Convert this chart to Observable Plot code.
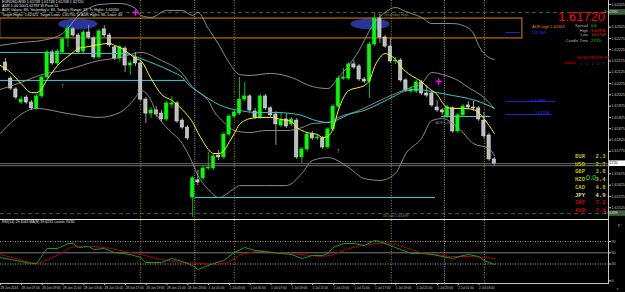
<!DOCTYPE html>
<html>
<head>
<meta charset="utf-8">
<script src="https://cdn.jsdelivr.net/npm/d3@7"></script>
<script src="https://cdn.jsdelivr.net/npm/@observablehq/plot@0.6"></script>
<style>
html,body{margin:0;padding:0;background:#000;}
#wrap{position:relative;width:625px;height:292px;overflow:hidden;background:#000;}
#main{position:absolute;left:0;top:0;}
#sub{position:absolute;left:0;top:220px;}
.ln{position:absolute;background:#d0d0d0;}
.t{position:absolute;white-space:nowrap;font-family:"Liberation Sans",Arial,sans-serif;line-height:1;}
.cur{position:absolute;white-space:nowrap;font-family:"DejaVu Sans Mono",monospace;font-weight:bold;font-size:5.6px;line-height:1;}
</style>
</head>
<body>
<div id="wrap">
  <div id="main"></div>
  <div id="sub"></div>
  <div class="ln" style="left:0;top:219px;width:608px;height:1px;background:#e8e8e8"></div>
  <div class="ln" style="left:608px;top:0;width:1px;height:284px;background:#c8c8c8"></div>
  <div class="ln" style="left:0;top:283px;width:609px;height:1px;background:#c8c8c8"></div>
</div>
<script>
// ---------- candles (EURUSD M30) ----------
const candleOpen = [1.62168,1.62097,1.62049,1.61991,1.62013,1.61991,1.61965,1.62018,1.62102,1.62213,
1.62164,1.62213,1.62275,1.62315,1.62288,1.62217,1.62301,1.62275,1.62191,1.62315,
1.62288,1.62235,1.62186,1.62230,1.62155,1.62191,1.62164,1.62004,1.61942,1.61956,
1.61942,1.61916,1.61982,1.61987,1.61911,1.61880,1.61570,1.61646,1.61655,1.61699,
1.61699,1.61756,1.61748,1.61849,1.61929,1.61942,1.62004,1.62018,1.61951,1.61925,
1.62018,1.61965,1.61938,1.61889,1.61916,1.61894,1.61911,1.61748,1.61783,1.61849,
1.61832,1.61832,1.61792,1.61872,1.61973,1.62097,1.62097,1.62160,1.62151,1.62093,
1.62084,1.62248,1.62363,1.62279,1.62239,1.62173,1.62177,1.62089,1.62040,1.62040,
1.62080,1.62031,1.62031,1.61969,1.61956,1.61929,1.61965,1.61863,1.61934,1.61978,
1.61969,1.61965,1.61911,1.61845,1.61739];
const candleHigh = [1.62186,1.62106,1.62058,1.62018,1.62022,1.62000,1.62027,1.62111,1.62222,1.62222,
1.62226,1.62279,1.62332,1.62323,1.62297,1.62310,1.62332,1.62284,1.62315,1.62332,
1.62297,1.62244,1.62244,1.62239,1.62177,1.62213,1.62177,1.62013,1.61969,1.61973,
1.61956,1.61996,1.62018,1.61996,1.61920,1.61889,1.61663,1.61690,1.61712,1.61770,
1.61761,1.61779,1.61858,1.61938,1.61956,1.62102,1.62080,1.62027,1.61965,1.62027,
1.62027,1.61973,1.61951,1.61947,1.61942,1.61925,1.61920,1.61792,1.61858,1.61863,
1.61849,1.61841,1.61880,1.61982,1.62106,1.62142,1.62168,1.62177,1.62160,1.62102,
1.62257,1.62385,1.62381,1.62288,1.62275,1.62191,1.62186,1.62097,1.62062,1.62089,
1.62089,1.62066,1.62040,1.62000,1.61965,1.61978,1.61973,1.61942,1.61982,1.61996,
1.61996,1.61973,1.61947,1.61854,1.61748];
const candleLow = [1.62124,1.62044,1.62004,1.61982,1.61982,1.61956,1.61956,1.62009,1.62097,1.62155,
1.62155,1.62204,1.62235,1.62279,1.62204,1.62208,1.62270,1.62182,1.62182,1.62279,
1.62235,1.62177,1.62168,1.62124,1.62111,1.62151,1.61996,1.61898,1.61920,1.61925,
1.61903,1.61907,1.61965,1.61898,1.61872,1.61823,1.61482,1.61623,1.61641,1.61690,
1.61690,1.61734,1.61739,1.61841,1.61920,1.61934,1.61996,1.61947,1.61916,1.61916,
1.61956,1.61925,1.61801,1.61880,1.61876,1.61885,1.61739,1.61721,1.61774,1.61823,
1.61823,1.61783,1.61783,1.61863,1.61965,1.62089,1.62089,1.62137,1.62084,1.62075,
1.62009,1.62239,1.62253,1.62230,1.62164,1.62160,1.62080,1.62035,1.62031,1.62031,
1.62022,1.62013,1.61969,1.61947,1.61934,1.61920,1.61854,1.61854,1.61925,1.61960,
1.61951,1.61907,1.61832,1.61730,1.61708];
const candleClose = [1.62133,1.62053,1.62013,1.62004,1.61991,1.61965,1.62018,1.62102,1.62213,1.62164,
1.62217,1.62270,1.62319,1.62288,1.62213,1.62301,1.62279,1.62191,1.62306,1.62288,
1.62244,1.62186,1.62235,1.62155,1.62164,1.62164,1.62004,1.61942,1.61956,1.61938,
1.61916,1.61987,1.61987,1.61907,1.61880,1.61832,1.61655,1.61637,1.61699,1.61703,
1.61752,1.61748,1.61849,1.61929,1.61947,1.62004,1.62018,1.61956,1.61925,1.62018,
1.61965,1.61934,1.61894,1.61911,1.61885,1.61916,1.61748,1.61783,1.61849,1.61832,
1.61836,1.61792,1.61872,1.61973,1.62097,1.62102,1.62160,1.62146,1.62093,1.62084,
1.62248,1.62363,1.62279,1.62239,1.62173,1.62177,1.62089,1.62044,1.62049,1.62080,
1.62031,1.62022,1.61978,1.61956,1.61947,1.61969,1.61863,1.61934,1.61973,1.61969,
1.61965,1.61916,1.61841,1.61739,1.61720];

// ---------- indicators (x = candle index) ----------
const yellowIdx = [-1,1,3,5,6,7,8,9,10,11,12,13,14,16,18,20,21,22,24,25,26,28,30,32,34,35,36,37,38,39,40,41,42,43,44,45,46,47,49,51,53,55,56,57,58,60,61,62,63,64,65,66,68,69,70,71,72,73,74,75,76,77,78,79,80,81,82,83,84,85,86,88,90,91,92,93,94];
const yellowVal = [1.62155,1.62124,1.62075,1.62035,1.62035,1.62053,1.62093,1.62124,1.62155,1.62177,1.62195,1.62213,1.62230,1.62239,1.62248,1.62253,1.62244,1.62235,1.62204,1.62186,1.62177,1.62097,1.62027,1.62000,1.61960,1.61934,1.61903,1.61858,1.61818,1.61783,1.61765,1.61765,1.61778,1.61814,1.61854,1.61894,1.61911,1.61920,1.61925,1.61925,1.61916,1.61907,1.61880,1.61867,1.61858,1.61849,1.61836,1.61841,1.61876,1.61956,1.62013,1.62044,1.62058,1.62066,1.62089,1.62151,1.62190,1.62208,1.62199,1.62182,1.62151,1.62128,1.62111,1.62097,1.62084,1.62062,1.62044,1.62027,1.61991,1.61969,1.61965,1.61965,1.61960,1.61947,1.61920,1.61889,1.61854];
const cyanIdx = [-1,6,12,18,23,26,29,32,34,35,37,39,41,43,45,48,52,55,57,59,62,64,66,69,72,75,77,79,81,83,86,89,92,94];
const cyanVal = [1.62213,1.62213,1.62208,1.62208,1.62208,1.62186,1.62159,1.62128,1.62102,1.62075,1.62040,1.62009,1.61982,1.61965,1.61956,1.61947,1.61947,1.61942,1.61934,1.61916,1.61903,1.61916,1.61938,1.61956,1.61987,1.62022,1.62044,1.62049,1.62044,1.62035,1.62022,1.62009,1.61987,1.61965];
const bbUpIdx = [-1,3,7,11,12,14,16,18,22,25,26,28,31,34,36,37,39,41,43,45,47,51,55,59,62,64,66,68,70,71,73,75,77,80,82,86,88,90,91,93,94];
const bbUpVal = [1.62244,1.62257,1.62266,1.62297,1.62319,1.62377,1.62408,1.62425,1.62430,1.62408,1.62377,1.62368,1.62399,1.62399,1.62377,1.62390,1.62319,1.62248,1.62168,1.62115,1.62111,1.62120,1.62102,1.62062,1.62053,1.62102,1.62155,1.62222,1.62310,1.62346,1.62390,1.62412,1.62394,1.62368,1.62341,1.62341,1.62332,1.62297,1.62244,1.62190,1.62182];
const bbMidIdx = [-1,3,7,12,18,22,26,30,34,36,38,39,40,42,44,47,50,54,57,59,62,64,68,72,75,78,80,82,84,87,89,92,94];
const bbMidVal = [1.62049,1.62080,1.62115,1.62137,1.62177,1.62190,1.62213,1.62177,1.62120,1.62058,1.62022,1.62000,1.61956,1.61903,1.61867,1.61858,1.61867,1.61867,1.61880,1.61898,1.61903,1.61925,1.61956,1.62000,1.62031,1.62058,1.62075,1.62124,1.62115,1.62089,1.62058,1.62013,1.61965];
const bbLoIdx = [-1,6,12,18,22,25,26,28,29,31,34,36,37,38,39,41,44,45,50,54,57,59,62,66,69,72,75,77,80,82,84,87,90,93,94];
const bbLoVal = [1.61854,1.61965,1.61942,1.61925,1.61947,1.62013,1.62044,1.62000,1.61942,1.61880,1.61809,1.61721,1.61668,1.61632,1.61606,1.61570,1.61610,1.61623,1.61623,1.61623,1.61677,1.61734,1.61747,1.61703,1.61654,1.61646,1.61677,1.61765,1.61832,1.61911,1.61920,1.61880,1.61809,1.61787,1.61756];

// sub window: RSI and its signal
const rsiIdx = [-1,5,6,8,10,12,13,14,16,17,19,21,24,26,27,30,32,34,36,37,38,40,42,44,46,48,51,53,55,57,59,61,62,63,65,67,69,71,72,74,76,78,80,82,84,86,88,89,91,92,94];
const rsiVal = [41.6,30.9,30.9,57.7,57.7,66.6,66.6,59.5,61.3,55.9,57.7,50.5,47.0,41.6,32.7,32.7,39.8,34.5,27.3,20.2,23.8,30.9,36.3,50.5,59.5,54.1,50.5,48.8,47.0,39.8,45.2,45.2,48.8,59.5,66.6,66.6,63.0,72.0,70.2,63.0,55.9,48.8,48.8,47.0,43.4,39.8,45.2,47.0,43.4,36.3,29.1];
const sigIdx = [-1,4.8,6.2,8.7,10.6,12.5,14,17.3,20.2,23.1,26,29.8,33.7,37.5,40.4,42.9,45.2,47.1,49,51.9,54.8,56.7,60.6,62.5,65.4,68.3,71.2,73.1,75,76.9,79.8,82.7,85.6,89.4,92.3,94.2];
const sigVal = [47.0,32.7,30.9,39.8,48.8,59.5,61.3,61.3,57.7,52.3,47.0,38.0,32.7,30.9,29.1,32.7,47.0,50.5,54.1,50.5,48.8,47.0,43.4,45.2,55.9,63.0,66.6,66.6,64.8,59.5,50.5,47.0,43.4,43.4,41.6,39.8];
const rsiLevels = [70, 30];
const rsiMid = [50];
const rsiTicks = [70, 50, 30, 0];

// objects on chart
const levelFrom = [-1, 36.5, 83.8];
const levelTo = [34.6, 82.7, 93.3];
const levelPrice = [1.62089, 1.61570, 1.61929];
const blueFrom = [96.2, 96.2, 96.2];
const blueTo = [99.0, 105.8, 105.2];
const bluePrice = [1.62301, 1.61996, 1.61938];
const boxFrom = -1, boxTo = 99.4, boxHigh = 1.62363, boxLow = 1.62275;
const dashPrices = [1.62390, 1.61499];
const bidAsk = [1.61720, 1.61711];
const sessionLines = [26, 44, 74.2, 92.1];
const daySeparators = [36.4, 84.4];
const magentaIdx = [25, 83.3], magentaPrice = [1.62390, 1.62084];
const arrowIdx = [11, 64], arrowPrice = [1.62066, 1.61778];
const ellipseIdx = [14, 70.2], ellipsePrice = [1.62337, 1.62337];
const noteIdx = [77.5, 82.7, 77.5];
const notePrice = [1.62379, 1.61903, 1.61488];
const noteText = ["Yesterday High", "ADR Low", "W.Low 1.61499"];
const noteAnchor = ["end", "start", "end"];

const priceTicks = [1.62425,1.62325,1.62275,1.62225,1.62175,1.62125,1.62075,1.62025,1.61975,1.61925,1.61875,1.61825,1.61775,1.61675,1.61625,1.61575,1.61525];
const timeIdx = [-1,3,7,11,15,19,23,27,31,35,39,43,47,51,55,59,63,67,71,75,79,83,87,91];
const timeLabels = ["28 Jun 2013","28 Jun 07:00","28 Jun 09:00","28 Jun 11:00","28 Jun 13:00","28 Jun 15:00","28 Jun 17:00","28 Jun 19:00","28 Jun 21:00","28 Jun 23:00","1 Jul 01:00","1 Jul 03:00","1 Jul 05:00","1 Jul 07:00","1 Jul 09:00","1 Jul 11:00","1 Jul 13:00","1 Jul 15:00","1 Jul 17:00","1 Jul 19:00","1 Jul 21:00","1 Jul 23:00","2 Jul 01:00","2 Jul 03:00"];

// text panels
const headerLines = [
  "EURUSD,M30  1.61739 1.61748 1.61708 1.61720",
  "ADR 1.00 100/1.62787  W Pivot 51",
  "ADR Values: 86, Yesterday's: 84, Today's Range: 37, Ts Highs: 1.62050",
  "Target Highs: 1.62321, Target Lows: 1.61750 To ADR Highs: 86, Lows: 46"
];
const infoLabels = ["Spread", "High", "Low", "Candle Time"];
const infoValues = ["0.6", "1.61996", "1.61708", "27:55"];
const infoColors = ["#00e000", "#ff2020", "#ff2020", "#00e000"];
const curNames = ["EUR","USD","GBP","NZD","CAD","JPY","CHF","AUD"];
const curValues = [2.3, 2.7, 3.0, 3.4, 4.8, 4.9, 7.2, 7.6];
const tfNames = ["M5","M15","M30","H1","H4"];
const tfDir = ["down","down","down","down","up"];
const subTitle = "RSI(14) 29.1043  MA(8) 39.8231  Levels 70/30";

// ---------- build ----------
const pts = (xs, ys) => xs.map((x, k) => ({x, y: ys[k]}));
const candles = candleOpen.map((o, i) => ({i, o, h: candleHigh[i], l: candleLow[i], c: candleClose[i], up: candleClose[i] >= o}));
const N = candles.length;
const xDomain = [-0.96, 115.96];
const baseStyle = {background: "#000", color: "#c8c8c8", fontFamily: "Liberation Sans, Arial, sans-serif", fontSize: "3.7px"};

const main = Plot.plot({
  width: 625, height: 219,
  marginLeft: 0, marginRight: 17, marginTop: 0, marginBottom: 0,
  style: baseStyle,
  x: {domain: xDomain, axis: null},
  y: {domain: [1.614728, 1.62443], axis: null},
  color: {type: "identity"},
  marks: [
    Plot.rect([{x1: boxFrom, x2: boxTo, y1: boxLow, y2: boxHigh}], {x1: "x1", x2: "x2", y1: "y1", y2: "y2", fill: "none", stroke: "#dd8800", strokeWidth: 1}),
    Plot.ruleY(dashPrices, {stroke: "#3d5e3d", strokeDasharray: "4,3"}),
    Plot.ruleX(sessionLines, {stroke: "#a09a00", strokeDasharray: "1,1.6"}),
    Plot.ruleX(daySeparators, {stroke: "#a8a8a8", strokeDasharray: "1,1.3"}),
    Plot.ruleY(levelPrice.map((p, k) => ({p, a: levelFrom[k], b: levelTo[k]})), {x1: "a", x2: "b", y: "p", stroke: "#2ad4e8", strokeWidth: 1}),
    Plot.ruleY(bluePrice.map((p, k) => ({p, a: blueFrom[k], b: blueTo[k]})), {x1: "a", x2: "b", y: "p", stroke: "#2424d0", strokeWidth: 1}),
    Plot.ruleX(candles, {x: "i", y1: "l", y2: "h", stroke: d => d.up ? "#00d200" : "#a8a8a8", strokeWidth: 0.9}),
    Plot.rect(candles, {x1: d => d.i - 0.31, x2: d => d.i + 0.31, y1: "o", y2: "c", fill: d => d.up ? "#00ff00" : "#bcbcbc", stroke: d => d.up ? "#00ff00" : "#e4e4e4", strokeWidth: 0.6}),
    Plot.line(pts(bbUpIdx, bbUpVal), {x: "x", y: "y", stroke: "#9a9a9a", strokeWidth: 0.9, curve: "monotone-x"}),
    Plot.line(pts(bbMidIdx, bbMidVal), {x: "x", y: "y", stroke: "#9a9a9a", strokeWidth: 0.9, curve: "monotone-x"}),
    Plot.line(pts(bbLoIdx, bbLoVal), {x: "x", y: "y", stroke: "#9a9a9a", strokeWidth: 0.9, curve: "monotone-x"}),
    Plot.line(pts(cyanIdx, cyanVal), {x: "x", y: "y", stroke: "#30c8d0", strokeWidth: 1, curve: "monotone-x"}),
    Plot.line(pts(yellowIdx, yellowVal), {x: "x", y: "y", stroke: "#ffff00", strokeWidth: 1, curve: "monotone-x"}),
    Plot.ruleY(bidAsk, {stroke: "#8c8c8c", strokeWidth: 0.8}),
    Plot.dot(pts(magentaIdx, magentaPrice), {x: "x", y: "y", symbol: "plus", r: 2.2, stroke: "#ff00ff", strokeWidth: 1.4}),
    Plot.text(pts(arrowIdx, arrowPrice), {x: "x", y: "y", text: () => "↑", fill: "#00ffff", fontSize: 7, fontWeight: "bold"}),
    Plot.text(noteText.map((t, k) => ({t, x: noteIdx[k], y: notePrice[k], a: noteAnchor[k]})).filter(d => d.a === "end"), {x: "x", y: "y", text: "t", fill: "#7a8a7a", fontSize: 3.7, textAnchor: "end"}),
    Plot.text(noteText.map((t, k) => ({t, x: noteIdx[k], y: notePrice[k], a: noteAnchor[k]})).filter(d => d.a === "start"), {x: "x", y: "y", text: "t", fill: "#8a8a8a", fontSize: 3.7, textAnchor: "start"}),
    Plot.axisY(priceTicks, {anchor: "right", tickSize: 2, tickPadding: 1, tickFormat: d => d.toFixed(5), fontSize: 3.7})
  ]
});
document.getElementById("main").appendChild(main);

// ellipses and axis tags positioned via the plot's own scales
const sx = main.scale("x"), sy = main.scale("y");
const svg = d3.select(main);
ellipseIdx.forEach((ix, k) => {
  svg.insert("ellipse", "g").attr("cx", sx.apply(ix)).attr("cy", sy.apply(ellipsePrice[k]))
    .attr("rx", 19.5).attr("ry", 5.5).attr("fill", "#29349a");
});
function axisTag(price, bg, fg) {
  const y = sy.apply(price);
  svg.append("rect").attr("x", 609).attr("y", y - 2.8).attr("width", 16).attr("height", 5.6).attr("fill", bg);
  svg.append("text").attr("x", 611).attr("y", y).attr("dy", "0.35em").attr("fill", fg)
    .attr("font-size", 3.7).attr("font-family", "Liberation Sans, Arial, sans-serif").text(price.toFixed(5));
}
dashPrices.forEach(p => axisTag(p, "#3d5e3d", "#d8d8d8"));
axisTag(candleClose[N - 1], "#ffffff", "#000000");

const sub = Plot.plot({
  width: 625, height: 72,
  marginLeft: 0, marginRight: 17, marginTop: 0, marginBottom: 9,
  style: baseStyle,
  x: {domain: xDomain, axis: null},
  y: {domain: [-4.8, 107.7], axis: null},
  marks: [
    Plot.ruleY(rsiLevels, {stroke: "#b4b4b4", strokeDasharray: "1,1.5"}),
    Plot.ruleY(rsiMid, {stroke: "#7c7c7c"}),
    Plot.ruleX(sessionLines, {stroke: "#a09a00", strokeDasharray: "1,1.6"}),
    Plot.ruleX(daySeparators, {stroke: "#a8a8a8", strokeDasharray: "1,1.3"}),
    Plot.line(pts(sigIdx, sigVal), {x: "x", y: "y", stroke: "#b00000", strokeWidth: 1}),
    Plot.line(pts(rsiIdx, rsiVal), {x: "x", y: "y", stroke: "#1c9c1c", strokeWidth: 1}),
    Plot.axisY(rsiTicks, {anchor: "right", tickSize: 2, tickPadding: 1, fontSize: 3.7}),
    Plot.axisX(timeIdx, {anchor: "bottom", tickSize: 2, tickPadding: 0.8, textAnchor: "start", dx: 0.3,
      tickFormat: d => timeLabels[timeIdx.indexOf(d)], fontSize: 3.2})
  ]
});
document.getElementById("sub").appendChild(sub);

// ---------- text overlays ----------
const wrap = document.getElementById("wrap");
function addText(txt, css, cls) {
  const d = document.createElement("div");
  d.className = cls || "t";
  d.textContent = txt;
  d.style.cssText += css;
  wrap.appendChild(d);
  return d;
}
headerLines.forEach((s, k) => addText(s, `left:2px;top:${1 + k * 4.2}px;font-size:3.7px;color:#e6e6e6;`));
addText(subTitle, "left:2px;top:221px;font-size:3.6px;color:#e6e6e6;");

addText(candleClose[N - 1].toFixed(5), "left:558px;top:9.5px;font-size:13px;color:#ff0000;");
const infoTops = [24, 28.5, 33, 38.5];
infoLabels.forEach((s, k) => {
  addText(s, `right:37px;top:${infoTops[k]}px;font-size:4px;color:#b0b0b0;text-align:right;`);
  addText(infoValues[k], `left:591px;top:${infoTops[k]}px;font-size:4px;color:${infoColors[k]};`);
});
addText("ADR high " + boxHigh.toFixed(5), "left:532px;top:25px;font-size:4px;color:#e08800;");
addText(bluePrice[0].toFixed(5), "left:532px;top:31px;font-size:4px;color:#3030ff;");
addText(bluePrice[1].toFixed(5), "left:531px;top:98.5px;font-size:4px;color:#3030ff;");
addText(bluePrice[2].toFixed(5), "left:535px;top:111px;font-size:4px;color:#3030ff;");

addText(tfNames.join(" "), "left:577px;top:56.5px;font-size:3.6px;color:#e00000;");
addText("Dollar2", "left:564px;top:62px;font-size:3.6px;color:#e00000;");
tfDir.forEach((d, k) => addText(d === "up" ? "↑" : "↓", `left:${580 + k * 5.6}px;top:61px;font-size:5px;font-weight:bold;color:${d === "up" ? "#3050ff" : "#ff2020"};`));

curNames.forEach((n, k) => {
  const col = curValues[k] >= 7 ? "#cc0000" : (n === "JPY" ? "#d8d890" : "#b8b800");
  addText(n, `left:575px;top:${154 + k * 7.7}px;color:${col};`, "cur");
  addText(curValues[k].toFixed(1), `left:595.5px;top:${154 + k * 7.7}px;color:${col};`, "cur");
});
addText("0.0", "left:586px;top:173.5px;font-size:7.5px;color:#22ee22;");
</script>
</body>
</html>
